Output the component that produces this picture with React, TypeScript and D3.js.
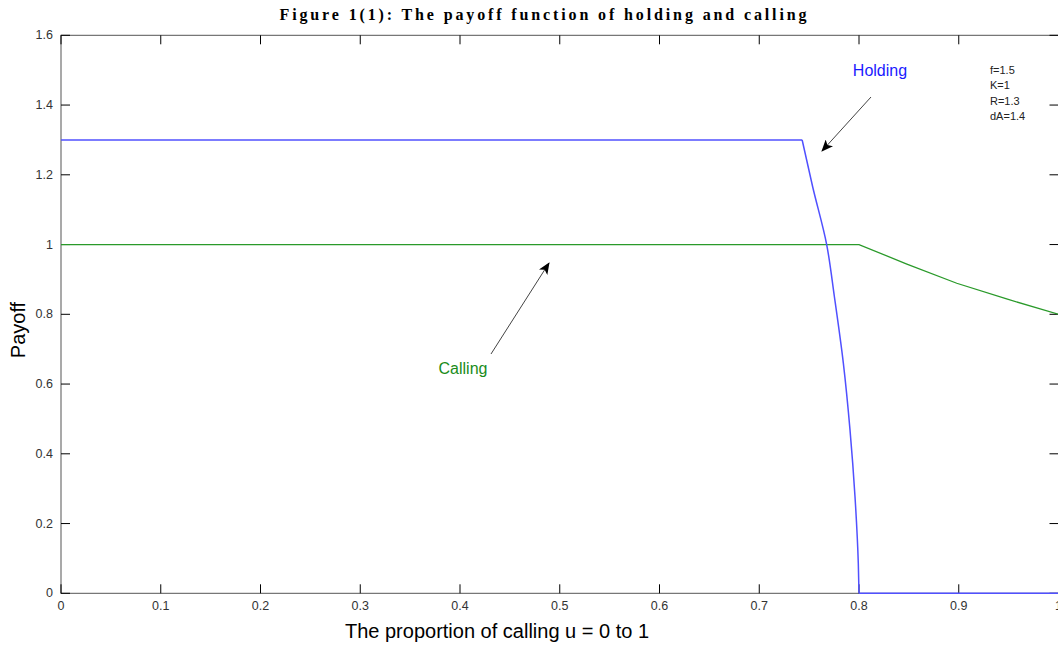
import React from "react";
import * as d3 from "d3";

const holdingU = [0, 0.743, 0.7536, 0.7676, 0.7753, 0.7843, 0.791, 0.796, 0.7993, 0.8, 1.0];
const holdingV = [1.3, 1.3, 1.165, 1.0, 0.851, 0.66, 0.468, 0.277, 0.086, 0, 0];
const callingU = [0, 0.8, 0.848, 0.898, 0.948, 1.0];
const callingV = [1.0, 1.0, 0.944, 0.889, 0.844, 0.8];
const xTicks = [0, 0.1, 0.2, 0.3, 0.4, 0.5, 0.6, 0.7, 0.8, 0.9, 1];
const yTicks = [0, 0.2, 0.4, 0.6, 0.8, 1, 1.2, 1.4, 1.6];
const params = ["f=1.5", "K=1", "R=1.3", "dA=1.4"];

const W = 1058, H = 645;
const L = 61, R = 1058.5, T = 35.3, B = 593.3;

export default function App() {
  const x = d3.scaleLinear().domain([0, 1]).range([L, R]);
  const y = d3.scaleLinear().domain([0, 1.6]).range([B, T]);
  const lineCurve = d3.line<[number, number]>().x(d => x(d[0])).y(d => y(d[1])).curve(d3.curveMonotoneY);
  const lineLin = d3.line<[number, number]>().x(d => x(d[0])).y(d => y(d[1]));
  const hold = holdingU.map((u, i) => [u, holdingV[i]] as [number, number]);
  const call = callingU.map((u, i) => [u, callingV[i]] as [number, number]);
  const fmt = (v: number) => (v === 0 ? "0" : v === 1 ? "1" : String(v));
  const tk = 9;
  const font = "Arial, 'Liberation Sans', sans-serif";
  return (
    <svg width={W} height={H} style={{ position: "absolute", left: 0, top: 0, background: "#fff" }} fontFamily={font}>
      <defs>
        <marker id="ah" viewBox="0 0 12 10" refX="11" refY="5" markerWidth="12" markerHeight="10" markerUnits="userSpaceOnUse" orient="auto">
          <path d="M0,0 L12,5 L0,10 L3,5 Z" fill="#000" />
        </marker>
      </defs>
      <text x={543} y={20} textAnchor="middle" fontFamily="'Liberation Serif', 'Times New Roman', serif" fontWeight="bold" fontSize={16} textLength={527} lengthAdjust="spacing">
        Figure 1(1):  The payoff function of holding and calling
      </text>
      <rect x={L} y={T} width={R - L} height={B - T} fill="none" stroke="#555" strokeWidth={1} />
      {xTicks.map(t => (
        <g key={"x" + t}>
          <line x1={x(t)} x2={x(t)} y1={B} y2={B - tk} stroke="#000" />
          <line x1={x(t)} x2={x(t)} y1={T} y2={T + tk} stroke="#000" />
          <text x={x(t)} y={610} textAnchor="middle" fontSize={12.5} fill="#333">{fmt(t)}</text>
        </g>
      ))}
      {yTicks.map(t => (
        <g key={"y" + t}>
          <line x1={L} x2={L + tk} y1={y(t)} y2={y(t)} stroke="#000" />
          <line x1={R} x2={R - tk} y1={y(t)} y2={y(t)} stroke="#000" />
          <text x={53} y={y(t) + 4} textAnchor="end" fontSize={12.5} fill="#333">{fmt(t)}</text>
        </g>
      ))}
      <path d={lineLin(call) || ""} fill="none" stroke="#2a9a2a" strokeWidth={1.3} />
      <path d={lineLin(hold.slice(0, 2)) || ""} fill="none" stroke="#5050ff" strokeWidth={1.5} />
      <path d={lineCurve(hold.slice(1, 10)) || ""} fill="none" stroke="#5050ff" strokeWidth={1.5} />
      <path d={lineLin(hold.slice(9)) || ""} fill="none" stroke="#5050ff" strokeWidth={1.5} />
      <text x={880} y={76} textAnchor="middle" fontSize={16} fill="#1a1aff">Holding</text>
      <line x1={871} y1={97} x2={822} y2={151} stroke="#444" strokeWidth={1} markerEnd="url(#ah)" />
      <text x={463} y={374} textAnchor="middle" fontSize={16} fill="#1a8c1a">Calling</text>
      <line x1={491} y1={354} x2={549} y2={263} stroke="#444" strokeWidth={1} markerEnd="url(#ah)" />
      {params.map((p, i) => (
        <text key={p} x={990} y={74 + i * 15.3} fontSize={11} fill="#222">{p}</text>
      ))}
      <text x={497} y={638} textAnchor="middle" fontSize={20} fill="#000">The proportion of calling u = 0 to 1</text>
      <text transform={`translate(25,330) rotate(-90)`} textAnchor="middle" fontSize={20} fill="#000">Payoff</text>
    </svg>
  );
}
